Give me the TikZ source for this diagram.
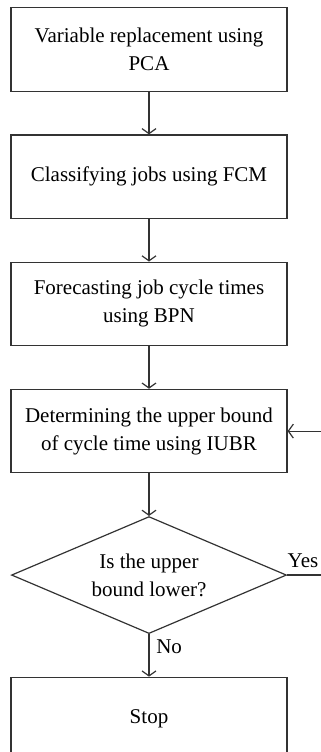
\documentclass[tikz,border=0pt]{standalone}
\usepackage{fontspec}
\setmainfont{Liberation Serif}
\usetikzlibrary{positioning,shapes.geometric,arrows.meta}

\begin{document}
\begin{tikzpicture}[x=1pt, y=1pt,
    font=\fontsize{10.5}{14}\selectfont,
    node distance=21.25pt,
    process/.style={rectangle, draw=black!80, line width=0.6pt, align=center,
      minimum width=138pt, minimum height=41.75pt, inner sep=2pt},
    decision/.style={diamond, draw=black!80, line width=0.6pt, align=center,
      aspect=2.35, minimum width=137.5pt, minimum height=58.5pt, inner sep=0pt},
    flow/.style={draw=black!80, line width=0.6pt,
      -{Straight Barb[length=2.5pt,width=7pt]}}]
  \clip (0,0) rectangle (160.5,-376);
  \node[process] (pca) at (74.5,-24.75) {Variable replacement using\\PCA};
  \node[process, below=of pca] (fcm) {Classifying jobs using FCM};
  \node[process, below=of fcm] (bpn) {Forecasting job cycle times\\using BPN};
  \node[process, below=of bpn] (iubr) {Determining the upper bound\\of cycle time using IUBR};
  \node[decision, below=of iubr] (lower) {Is the upper\\bound lower?};
  \node[process, below=of lower] (stop) {Stop};
  \coordinate[right=26.5pt of lower.east] (back);

  \draw[flow] (pca) -- (fcm);
  \draw[flow] (fcm) -- (bpn);
  \draw[flow] (bpn) -- (iubr);
  \draw[flow] (iubr) -- (lower);
  \draw[flow] (lower) -- node[right, pos=0.3] {No} (stop);
  % loop back to the IUBR step
  \draw[flow] (lower.east) -- node[above, pos=0.3] {Yes} (back) |- (iubr.east);
\end{tikzpicture}
\end{document}
